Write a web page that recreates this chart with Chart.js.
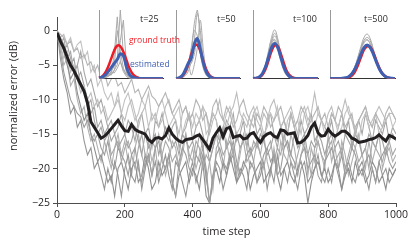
<!DOCTYPE html>
<html>
<head>
<meta charset="utf-8">
<script src="https://cdn.jsdelivr.net/npm/chart.js@4"></script>
<style>
  html, body { margin: 0; padding: 0; background: #fff; }
  #wrap { position: relative; width: 415px; height: 241px; overflow: hidden; }
  #main { position: absolute; left: 0; top: 0; }
  .inset { position: absolute; top: 6px; }
  .note { position: absolute; font-family: "Open Sans", sans-serif; white-space: nowrap; line-height: 1; }
</style>
</head>
<body>
<div id="wrap">
  <canvas id="main" width="415" height="241"></canvas>
  <canvas class="inset" id="inset25" width="70" height="76" style="left:97px"></canvas>
  <canvas class="inset" id="inset50" width="70" height="76" style="left:174px"></canvas>
  <canvas class="inset" id="inset100" width="71" height="76" style="left:251px"></canvas>
  <canvas class="inset" id="inset500" width="71" height="76" style="left:328px"></canvas>
  <div class="note" style="left:140px;top:14px;font-size:9px;color:#231f20">t=25</div>
  <div class="note" style="left:217px;top:14px;font-size:9px;color:#231f20">t=50</div>
  <div class="note" style="left:293px;top:14px;font-size:9px;color:#231f20">t=100</div>
  <div class="note" style="left:364px;top:14px;font-size:9px;color:#231f20">t=500</div>
  <div class="note" style="left:129px;top:36px;font-size:8.5px;color:#ed1c24">ground truth</div>
  <div class="note" style="left:130px;top:60px;font-size:8.5px;color:#3f5fb0">estimated</div>
</div>
<script>
// ------------------------------------------------------------------
//  Données : erreur normalisée (dB), échantillonnée tous les 10 pas
// ------------------------------------------------------------------
const timeSteps = [0,10,20,30,40,50,60,70,80,90,100,110,120,130,140,150,160,170,180,190,
  200,210,220,230,240,250,260,270,280,290,300,310,320,330,340,350,360,370,380,390,
  400,410,420,430,440,450,460,470,480,490,500,510,520,530,540,550,560,570,580,590,
  600,610,620,630,640,650,660,670,680,690,700,710,720,730,740,750,760,770,780,790,
  800,810,820,830,840,850,860,870,880,890,900,910,920,930,940,950,960,970,980,990,1000];

const xTicks = [0, 200, 400, 600, 800, 1000];
const yTicks = [0, -5, -10, -15, -20, -25];

// moyenne (courbe noire)
const meanError = [-0.3,-1.5,-2.5,-3.8,-5.0,-5.8,-6.8,-7.8,-8.8,-10.5,-13.2,-14.0,-14.8,-15.6,-15.3,-14.8,-14.2,-13.6,-13.0,-13.8,
  -14.5,-14.6,-13.6,-14.3,-14.6,-14.8,-15.0,-15.8,-16.2,-15.6,-15.5,-15.7,-15.2,-14.1,-15.0,-15.6,-16.0,-16.2,-15.8,-15.7,
  -15.6,-15.3,-15.1,-15.8,-16.5,-17.2,-15.6,-14.8,-14.1,-15.4,-14.2,-14.0,-15.5,-15.3,-15.2,-15.7,-15.6,-15.0,-14.8,-15.6,
  -16.2,-15.4,-15.0,-14.8,-15.3,-15.5,-14.4,-14.5,-15.0,-14.9,-14.8,-16.3,-16.2,-15.8,-15.2,-14.0,-13.4,-14.8,-15.3,-15.2,
  -14.3,-14.9,-15.3,-15.0,-14.6,-14.6,-15.0,-15.6,-15.8,-16.2,-16.1,-16.0,-15.8,-15.7,-15.5,-15.1,-15.6,-16.0,-15.2,-15.4,-15.7];

// essais individuels (courbes grises)
const run1 = [0,-3,-6,-8,-10,-11,-12,-12.5,-14,-13,-15,-16,-15,-17,-18,-16,-19,-20,-17,-18,
  -19,-21,-18,-17,-20,-22,-19,-18,-21,-17,-16,-19,-20,-18,-22,-24,-19,-17,-18,-20,
  -21,-18,-19,-17,-20,-25,-21,-18,-17,-19,-20,-18,-16,-19,-21,-20,-18,-17,-19,-22,
  -20,-18,-17,-19,-18,-21,-20,-17,-16,-18,-19,-21,-18,-17,-20,-19,-18,-21,-22,-19,
  -18,-17,-19,-20,-18,-21,-19,-17,-18,-20,-21,-19,-18,-20,-22,-19,-18,-17,-19,-20,-19];
const run2 = [0,-0.5,-1,-2,-1.5,-3,-2.5,-4,-3.5,-5,-4.5,-6,-5,-7,-6,-8,-7,-6.5,-8,-7.5,
  -9,-8,-7,-9,-8.5,-10,-9,-8,-9.5,-10,-11,-10,-9,-10.5,-12,-11,-10,-12,-11,-13,
  -12,-10,-11,-13,-12,-14,-11,-10,-12,-13,-11,-12,-14,-13,-11,-10,-12,-13,-14,-12,
  -13,-11,-12,-14,-13,-12,-11,-13,-15,-12,-14,-13,-11,-12,-14,-13,-12,-11,-13,-12,
  -14,-12,-13,-11,-12,-14,-13,-12,-15,-13,-12,-11,-13,-14,-12,-13,-14,-12,-11,-12,-13];
const run3 = [0,-2,-1,-4,-3,-6,-5,-8,-9,-11,-10,-13,-15,-14,-16,-15,-18,-17,-16,-19,
  -17,-16,-18,-20,-17,-15,-18,-19,-16,-17,-21,-18,-16,-17,-19,-18,-20,-17,-15,-18,
  -19,-16,-17,-20,-18,-19,-23,-17,-16,-18,-17,-15,-18,-20,-17,-16,-19,-18,-17,-16,
  -18,-20,-17,-16,-19,-17,-18,-15,-17,-19,-20,-18,-16,-17,-18,-21,-17,-16,-18,-19,
  -17,-16,-19,-18,-17,-20,-18,-16,-17,-19,-18,-17,-20,-16,-17,-18,-19,-17,-16,-18,-17];
const run4 = [0,-1,-3,-5,-7,-6,-9,-11,-13,-12,-15,-17,-19,-18,-20,-22,-21,-24,-20,-19,
  -21,-23,-20,-19,-22,-21,-18,-20,-23,-22,-19,-21,-20,-18,-22,-24,-21,-20,-19,-22,
  -20,-21,-23,-19,-24,-25,-21,-20,-22,-19,-21,-18,-20,-22,-21,-19,-20,-23,-21,-20,
  -19,-22,-21,-20,-18,-21,-23,-20,-19,-21,-22,-20,-19,-21,-25,-22,-20,-19,-21,-20,
  -22,-21,-19,-20,-23,-21,-20,-22,-19,-21,-20,-22,-21,-19,-20,-22,-21,-23,-20,-21,-20];
const run5 = [0,-2,-4,-3,-6,-5,-7,-9,-8,-10,-9,-11,-10,-12,-11,-13,-12,-11,-9,-12,
  -13,-11,-10,-12,-14,-12,-11,-9,-13,-12,-14,-13,-11,-10,-12,-13,-15,-12,-11,-13,
  -12,-14,-13,-11,-12,-15,-13,-12,-10,-13,-14,-12,-11,-9,-12,-13,-14,-12,-11,-13,
  -14,-12,-13,-11,-10,-12,-14,-13,-12,-11,-13,-15,-12,-11,-13,-12,-9,-12,-13,-14,
  -12,-11,-13,-14,-12,-10,-12,-13,-15,-13,-12,-11,-13,-14,-12,-11,-12,-13,-12,-12,-13];
const run6 = [0,-1,-2,-4,-5,-4,-7,-6,-8,-10,-12,-11,-14,-13,-15,-14,-16,-15,-17,-16,
  -15,-17,-16,-14,-16,-18,-15,-17,-16,-15,-18,-16,-14,-15,-17,-16,-18,-15,-16,-17,
  -16,-18,-15,-17,-16,-19,-17,-15,-16,-14,-17,-16,-18,-15,-17,-16,-15,-18,-16,-17,
  -15,-16,-18,-17,-15,-16,-14,-17,-16,-18,-15,-17,-16,-15,-18,-16,-17,-15,-16,-18,
  -16,-15,-17,-16,-18,-15,-16,-17,-15,-16,-18,-17,-15,-16,-17,-15,-16,-18,-16,-15,-16];
const run7 = [0,-1,-0.5,-2,-1,-3,-2,-1.5,-4,-3,-6,-5,-8,-7,-9,-10,-9,-11,-10,-12,
  -10,-9,-11,-13,-12,-10,-11,-14,-12,-13,-11,-10,-12,-14,-13,-12,-11,-15,-13,-12,
  -14,-12,-13,-11,-15,-14,-12,-13,-16,-14,-12,-11,-13,-15,-14,-12,-13,-14,-12,-11,
  -13,-15,-14,-12,-13,-11,-14,-16,-13,-12,-14,-13,-15,-12,-11,-13,-14,-12,-13,-15,
  -14,-12,-13,-15,-14,-12,-11,-13,-14,-16,-13,-12,-14,-13,-12,-15,-14,-13,-12,-14,-13];
const run8 = [0,-4,-7,-9,-12,-11,-14,-13,-16,-18,-17,-20,-19,-21,-23,-20,-22,-19,-21,-24,
  -20,-18,-21,-22,-19,-23,-20,-18,-21,-19,-22,-20,-18,-21,-23,-19,-20,-22,-24,-21,
  -19,-22,-20,-18,-21,-25,-22,-19,-20,-23,-21,-19,-18,-22,-20,-21,-23,-19,-20,-22,
  -21,-19,-23,-20,-22,-18,-21,-20,-22,-19,-21,-23,-20,-19,-22,-21,-20,-18,-21,-22,
  -20,-22,-19,-21,-23,-20,-19,-21,-22,-20,-19,-21,-23,-20,-22,-19,-21,-20,-22,-21,-20];
const run9 = [0,-2,-5,-4,-8,-7,-10,-12,-11,-14,-16,-15,-17,-19,-16,-18,-20,-17,-15,-18,
  -16,-19,-21,-17,-15,-18,-20,-16,-19,-17,-15,-18,-21,-19,-16,-17,-20,-18,-15,-19,
  -17,-20,-18,-16,-22,-19,-17,-15,-18,-20,-16,-19,-17,-21,-18,-15,-17,-20,-19,-16,
  -18,-15,-19,-21,-17,-20,-16,-18,-19,-15,-17,-20,-18,-16,-21,-17,-19,-16,-18,-20,
  -15,-19,-17,-20,-16,-18,-21,-19,-17,-15,-18,-20,-16,-19,-17,-15,-20,-18,-17,-19,-18];
const run10 = [0,-1,-3,-2,-4,-6,-5,-3,-6,-8,-7,-9,-11,-10,-12,-14,-13,-15,-14,-12,
  -15,-13,-14,-16,-13,-12,-15,-14,-17,-13,-14,-12,-15,-16,-14,-13,-17,-15,-14,-12,
  -16,-14,-13,-15,-17,-14,-12,-13,-16,-15,-13,-14,-12,-16,-15,-13,-17,-14,-12,-15,
  -14,-16,-13,-12,-15,-17,-14,-13,-15,-12,-14,-16,-13,-15,-14,-12,-16,-15,-13,-14,
  -15,-13,-16,-14,-12,-15,-13,-17,-14,-13,-15,-12,-14,-16,-13,-14,-15,-13,-16,-14,-15];

const runs = [run1, run2, run3, run4, run5, run6, run7, run8, run9, run10];
const runColors = ["#9d9d9d", "#b5b5b5", "#a8a8a8", "#8e8e8e", "#bdbdbd",
                   "#a2a2a2", "#c2c2c2", "#969696", "#b0b0b0", "#a6a6a6"];

// ------------------------------------------------------------------
//  Données des encarts : densités (hauteur relative) par position
// ------------------------------------------------------------------
const insetX = [0,3,6,9,12,15,18,21,24,27,30,33,36,39,42,45,48,51,54,57,60,63];

const truth25 = [0.01,0.03,0.08,0.17,0.29,0.41,0.48,0.47,0.39,0.27,0.15,0.07,0.03,0.01,0,0,0,0,0,0,0,0];
const est25 = [0.01,0.02,0.05,0.10,0.16,0.22,0.28,0.36,0.33,0.17,0.06,0.02,0.01,0,0,0,0,0,0,0,0,0];
const gray25 = [
  [0,0,0.01,0.03,0.06,0.12,0.30,1.00,0.35,0.08,0.02,0,0,0,0,0,0,0,0,0,0,0],
  [0,0,0.02,0.05,0.10,0.18,0.70,0.40,0.15,0.05,0.01,0,0,0,0,0,0,0,0,0,0,0],
  [0,0.01,0.03,0.08,0.05,0.12,0.20,0.55,0.85,0.20,0.04,0,0,0,0,0,0,0,0,0,0,0],
  [0,0,0.01,0.04,0.10,0.08,0.15,0.25,0.12,0.06,0.02,0,0,0,0,0,0,0,0,0,0,0],
  [0,0.02,0.05,0.03,0.08,0.35,0.90,0.25,0.10,0.03,0,0,0,0,0,0,0,0,0,0,0,0]
];

const truth50 = [0.002,0.009,0.033,0.093,0.205,0.35,0.47,0.49,0.40,0.25,0.125,0.048,0.014,0.003,0,0,0,0,0,0,0,0];
const est50 = [0.002,0.01,0.04,0.12,0.22,0.30,0.50,0.58,0.42,0.22,0.09,0.03,0.01,0,0,0,0,0,0,0,0,0];
const gray50 = [
  [0,0.005,0.02,0.06,0.15,0.35,0.80,1.00,0.55,0.20,0.06,0.015,0,0,0,0,0,0,0,0,0,0],
  [0,0.01,0.03,0.08,0.20,0.45,0.70,0.62,0.35,0.14,0.04,0.01,0,0,0,0,0,0,0,0,0,0],
  [0,0,0.01,0.04,0.10,0.25,0.55,0.95,0.70,0.25,0.05,0.01,0,0,0,0,0,0,0,0,0,0],
  [0,0.01,0.04,0.10,0.18,0.22,0.35,0.60,0.50,0.30,0.10,0.02,0,0,0,0,0,0,0,0,0,0],
  [0,0.005,0.03,0.09,0.22,0.05,0.20,0.45,0.85,0.40,0.10,0.02,0,0,0,0,0,0,0,0,0,0]
];

const truth100 = [0,0.004,0.015,0.05,0.13,0.26,0.40,0.48,0.47,0.36,0.22,0.10,0.04,0.012,0.003,0,0,0,0,0,0,0];
const est100 = [0.001,0.006,0.022,0.069,0.166,0.31,0.45,0.51,0.45,0.31,0.166,0.069,0.022,0.006,0.001,0,0,0,0,0,0,0];
const gray100 = [
  [0,0.005,0.02,0.07,0.18,0.38,0.60,0.71,0.58,0.34,0.15,0.05,0.01,0,0,0,0,0,0,0,0,0],
  [0,0.004,0.02,0.06,0.16,0.33,0.52,0.62,0.52,0.32,0.15,0.05,0.012,0,0,0,0,0,0,0,0,0],
  [0,0.003,0.015,0.05,0.14,0.30,0.50,0.57,0.48,0.30,0.14,0.05,0.01,0,0,0,0,0,0,0,0,0],
  [0,0.006,0.025,0.08,0.20,0.40,0.56,0.55,0.42,0.25,0.11,0.04,0.01,0,0,0,0,0,0,0,0,0],
  [0,0.004,0.018,0.06,0.15,0.32,0.55,0.66,0.55,0.33,0.14,0.05,0.01,0,0,0,0,0,0,0,0,0]
];

const truth500 = [0,0,0,0,0.001,0.004,0.014,0.04,0.095,0.19,0.31,0.42,0.47,0.46,0.38,0.26,0.15,0.07,0.028,0.009,0.002,0];
const est500 = [0,0,0,0.001,0.003,0.01,0.027,0.066,0.135,0.24,0.355,0.45,0.49,0.45,0.355,0.24,0.135,0.066,0.027,0.01,0.003,0.001];
const gray500 = [
  [0,0,0,0.001,0.004,0.012,0.033,0.08,0.17,0.31,0.47,0.60,0.65,0.58,0.43,0.27,0.14,0.06,0.02,0.006,0.001,0],
  [0,0,0,0.001,0.003,0.01,0.03,0.075,0.16,0.29,0.44,0.56,0.60,0.55,0.41,0.26,0.13,0.055,0.02,0.005,0.001,0],
  [0,0,0,0.001,0.004,0.011,0.03,0.07,0.15,0.27,0.41,0.52,0.56,0.51,0.38,0.24,0.12,0.05,0.018,0.005,0.001,0],
  [0,0,0,0.002,0.005,0.014,0.037,0.085,0.17,0.30,0.44,0.54,0.57,0.50,0.36,0.22,0.11,0.045,0.015,0.004,0.001,0]
];

// ------------------------------------------------------------------
//  Graphique principal
// ------------------------------------------------------------------
const FONT = "'Open Sans', sans-serif";
const TXT = "#231f20";
const AXIS = "#4d4d4d";

// titre vertical (placé comme dans la figure, un peu au-dessus du centre)
const yTitlePlugin = {
    id: "yTitle",
    afterDraw(chart) {
        const c = chart.ctx;
        c.save();
        c.translate(14, 96);
        c.rotate(-Math.PI / 2);
        c.font = "11px " + FONT;
        c.fillStyle = TXT;
        c.textAlign = "center";
        c.textBaseline = "middle";
        c.fillText("normalized error (dB)", 0, 0);
        c.restore();
    }
};

const mainSets = [{
    data: meanError,
    borderColor: "#231f20",
    borderWidth: 3,
    pointRadius: 0,
    tension: 0
}].concat(runs.map((r, i) => ({
    data: r,
    borderColor: runColors[i],
    borderWidth: 1.1,
    pointRadius: 0,
    tension: 0
})));

new Chart(document.getElementById("main"), {
    type: "line",
    data: { labels: timeSteps, datasets: mainSets },
    plugins: [yTitlePlugin],
    options: {
        responsive: false,
        animation: false,
        layout: { padding: { top: 17, right: 19, left: 0, bottom: 0 } },
        plugins: { legend: { display: false }, tooltip: { enabled: false } },
        scales: {
            x: {
                type: "linear", min: 0, max: 1000,
                afterBuildTicks: s => { s.ticks = xTicks.map(v => ({ value: v })); },
                afterFit: s => { s.height = 38; },
                grid: { drawOnChartArea: false, tickLength: 4, color: AXIS },
                border: { color: AXIS, width: 1 },
                ticks: { padding: 2, color: TXT, font: { family: FONT, size: 10.5 }, maxRotation: 0,
                         callback: v => String(v) },
                title: { display: true, text: "time step", color: TXT, padding: { top: 0, bottom: 3 },
                         font: { family: FONT, size: 11 } }
            },
            y: {
                min: -25, max: 2,
                afterBuildTicks: s => { s.ticks = yTicks.map(v => ({ value: v })); },
                afterFit: s => { s.width = 57; },
                grid: { drawOnChartArea: false, tickLength: 4, color: AXIS },
                border: { color: AXIS, width: 1 },
                ticks: { padding: 3, color: TXT, font: { family: FONT, size: 10.5 },
                         callback: v => String(v).replace("-", "\u2212") }
            }
        }
    }
});

// ------------------------------------------------------------------
//  Encarts (distributions à t = 25, 50, 100, 500)
// ------------------------------------------------------------------
const whiteArea = {
    id: "whiteArea",
    beforeDraw(chart) {
        const a = chart.chartArea;
        chart.ctx.save();
        chart.ctx.fillStyle = "#fff";
        chart.ctx.fillRect(a.left, a.top - 1, a.right - a.left + 1, a.bottom - a.top + 1);
        chart.ctx.restore();
    }
};

function drawInset(id, truth, est, grays, grayTension, plotWidth) {
    const canvas = document.getElementById(id);
    const sets = [
        { data: est, borderColor: "#3f5fb0", borderWidth: 3, pointRadius: 0, tension: 0.4 },
        { data: truth, borderColor: "#ed1c24", borderWidth: 2.5, pointRadius: 0, tension: 0.4 }
    ].concat(grays.map(g => ({
        data: g, borderColor: "#a9a9a9", borderWidth: 1, pointRadius: 0, tension: grayTension
    })));

    new Chart(canvas, {
        type: "line",
        data: { labels: insetX, datasets: sets },
        plugins: [whiteArea],
        options: {
            responsive: false,
            animation: false,
            layout: { padding: { left: 2, top: 4, right: canvas.width - 2 - plotWidth, bottom: 3.5 } },
            plugins: { legend: { display: false }, tooltip: { enabled: false } },
            scales: {
                x: {
                    offset: false,
                    ticks: { display: false },
                    grid: { display: false },
                    border: { color: "#333", width: 1 },
                    afterFit: s => { s.height = 0; }
                },
                y: {
                    min: 0, max: 1,
                    ticks: { display: false },
                    grid: { display: false },
                    border: { color: "#9a9a9a", width: 1 },
                    afterFit: s => { s.width = 0; }
                }
            }
        }
    });
}

drawInset("inset25", truth25, est25, gray25, 0, 64);
drawInset("inset50", truth50, est50, gray50, 0.3, 64);
drawInset("inset100", truth100, est100, gray100, 0.4, 65);
drawInset("inset500", truth500, est500, gray500, 0.4, 65);
</script>
</body>
</html>
